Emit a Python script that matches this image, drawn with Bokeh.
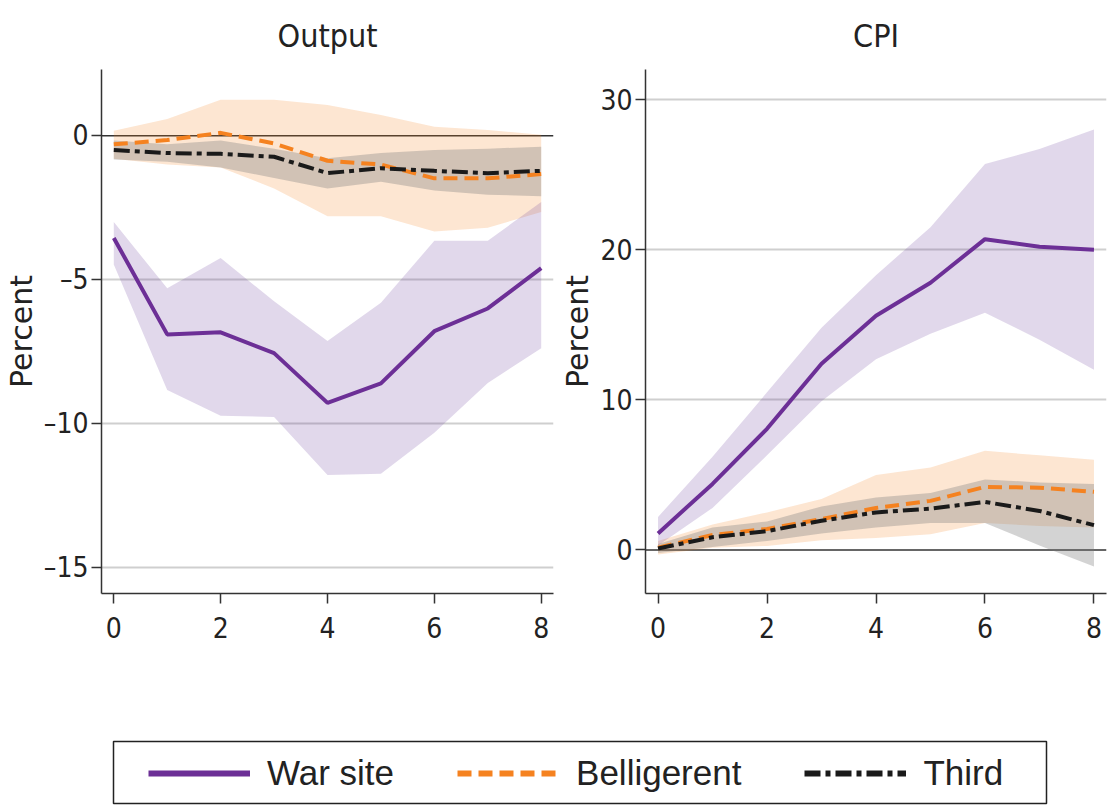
from bokeh.plotting import figure
from bokeh.layouts import column, row
from bokeh.models import Range1d, FixedTicker, Span, Legend, LegendItem
from bokeh.embed import file_html
from bokeh.resources import INLINE

# ---------------- data ----------------
horizon = [0, 1, 2, 3, 4, 5, 6, 7, 8]
x_ticks = [0, 2, 4, 6, 8]

series_names = ["War site", "Belligerent", "Third"]

# Output panel
out_war = [-3.55, -6.9, -6.83, -7.55, -9.28, -8.6, -6.79, -6.0, -4.6]
out_war_hi = [-3.0, -5.3, -4.25, -5.75, -7.13, -5.8, -3.65, -3.65, -2.3]
out_war_lo = [-4.47, -8.83, -9.73, -9.77, -11.78, -11.74, -10.32, -8.59, -7.38]
out_bel = [-0.3, -0.15, 0.1, -0.27, -0.87, -1.0, -1.48, -1.48, -1.33]
out_bel_hi = [0.17, 0.58, 1.25, 1.25, 1.07, 0.72, 0.31, 0.2, 0.03]
out_bel_lo = [-0.8, -1.0, -1.1, -1.83, -2.8, -2.8, -3.33, -3.2, -2.65]
out_thi = [-0.5, -0.6, -0.63, -0.73, -1.3, -1.13, -1.22, -1.3, -1.22]
out_thi_hi = [-0.17, -0.3, -0.17, -0.45, -0.78, -0.6, -0.5, -0.45, -0.38]
out_thi_lo = [-0.83, -0.9, -1.1, -1.47, -1.83, -1.6, -1.9, -2.05, -2.1]
out_yticks = [-15, -10, -5, 0]
out_ylabels = ["\u201315", "\u201310", "\u20135", "0"]

# CPI panel
cpi_war = [1.1, 4.4, 8.07, 12.4, 15.6, 17.8, 20.7, 20.2, 20.0]
cpi_war_hi = [2.2, 6.2, 10.5, 14.8, 18.3, 21.5, 25.7, 26.7, 28.0]
cpi_war_lo = [0.3, 2.8, 6.3, 9.9, 12.7, 14.4, 15.8, 14.0, 12.0]
cpi_bel = [0.15, 1.0, 1.4, 2.05, 2.8, 3.27, 4.2, 4.15, 3.87]
cpi_bel_hi = [0.6, 1.7, 2.5, 3.4, 5.0, 5.5, 6.6, 6.3, 6.0]
cpi_bel_lo = [-0.3, 0.15, 0.27, 0.65, 0.8, 1.05, 1.8, 1.6, 1.5]
cpi_thi = [0.1, 0.85, 1.25, 1.95, 2.5, 2.75, 3.2, 2.6, 1.65]
cpi_thi_hi = [0.4, 1.5, 1.9, 2.9, 3.5, 3.8, 4.7, 4.5, 4.4]
cpi_thi_lo = [-0.2, 0.2, 0.6, 1.1, 1.5, 1.8, 1.8, 0.3, -1.1]
cpi_yticks = [0, 10, 20, 30]
cpi_ylabels = ["0", "10", "20", "30"]

# ---------------- style ----------------
NARROW = "'Liberation Sans Narrow', 'DejaVu Sans Condensed', 'Liberation Sans', sans-serif"
PURPLE = "#6c2f96"
ORANGE = "#f58220"
BLACK = "#1a1a1a"
AXIS = "#333333"
STYLES = {
    "War site": dict(line_color=PURPLE, line_dash="solid"),
    "Belligerent": dict(line_color=ORANGE, line_dash="14 7"),
    "Third": dict(line_color=BLACK, line_dash="16 5 5 5"),
}
BANDS = {
    "War site": dict(fill_color="#6a3d9a", fill_alpha=0.2),
    "Belligerent": dict(fill_color=ORANGE, fill_alpha=0.2),
    "Third": dict(fill_color="#7a7a7a", fill_alpha=0.33),
}
PANEL_H = 700


def panel(title, yrange, yticks, ylabels, width, bl, br, data):
    p = figure(width=width, height=PANEL_H, x_range=Range1d(-0.23, 8.23),
               y_range=Range1d(*yrange), output_backend="svg",
               toolbar_location=None, min_border_left=bl, min_border_right=br,
               min_border_top=69, min_border_bottom=PANEL_H - 593)
    p.outline_line_color = None
    p.background_fill_color = "white"
    p.border_fill_color = "white"
    p.title.text = title
    p.title.align = "center"
    p.title.text_font = NARROW
    p.title.text_font_size = "32px"
    p.title.text_font_style = "normal"
    p.title.text_color = "#222222"
    p.title.standoff = 29

    p.xgrid.visible = False
    p.ygrid.ticker = FixedTicker(ticks=[t for t in yticks if t != 0])
    p.ygrid.grid_line_color = "#cfcfcf"
    p.ygrid.grid_line_width = 2

    for ax in (p.xaxis[0], p.yaxis[0]):
        ax.axis_line_color = AXIS
        ax.axis_line_width = 1.5
        ax.major_tick_line_color = AXIS
        ax.major_tick_line_width = 1.5
        ax.major_tick_in = 0
        ax.major_tick_out = 10
        ax.minor_tick_line_color = None
        ax.major_label_text_font = NARROW
        ax.major_label_text_font_size = "28px"
        ax.major_label_text_color = "#222222"

    p.xaxis.ticker = FixedTicker(ticks=x_ticks)
    p.xaxis.major_label_standoff = 13
    p.yaxis.ticker = FixedTicker(ticks=yticks)
    p.yaxis.major_label_overrides = {t: l for t, l in zip(yticks, ylabels)}
    p.yaxis.major_label_standoff = 3
    p.yaxis.axis_label = "Percent"
    p.yaxis.axis_label_text_font = "DejaVu Sans"
    p.yaxis.axis_label_text_font_size = "30px"
    p.yaxis.axis_label_text_font_style = "normal"
    p.yaxis.axis_label_text_color = "#222222"
    p.yaxis.axis_label_standoff = 2

    for name in ["Belligerent", "Third", "War site"]:
        mid, hi, lo = data[name]
        p.varea(x=horizon, y1=lo, y2=hi, **BANDS[name])

    p.add_layout(Span(location=0, dimension="width", line_color=AXIS,
                      line_width=1.5, level="underlay"))

    for name in ["War site", "Belligerent", "Third"]:
        mid, hi, lo = data[name]
        p.line(x=horizon, y=mid, line_width=4, **STYLES[name])
    return p


p1 = panel("Output", (-15.9, 2.3), out_yticks, out_ylabels, 557, 92, 4, {
    "War site": (out_war, out_war_hi, out_war_lo),
    "Belligerent": (out_bel, out_bel_hi, out_bel_lo),
    "Third": (out_thi, out_thi_hi, out_thi_lo),
})
p2 = panel("CPI", (-2.9, 32.0), cpi_yticks, cpi_ylabels, 553, 82, 4, {
    "War site": (cpi_war, cpi_war_hi, cpi_war_lo),
    "Belligerent": (cpi_bel, cpi_bel_hi, cpi_bel_lo),
    "Third": (cpi_thi, cpi_thi_hi, cpi_thi_lo),
})

# legend strip: the frame outline is the legend box
LEG_H = 105
pl = figure(width=1110, height=LEG_H, x_range=Range1d(0, 1), y_range=Range1d(0, 1),
            output_backend="svg", toolbar_location=None,
            min_border_left=113, min_border_right=1110 - 1046,
            min_border_top=41, min_border_bottom=2)
pl.axis.visible = False
pl.grid.visible = False
pl.outline_line_color = "#222222"
pl.outline_line_width = 1.5
nan = float("nan")
items = []
for name in series_names:
    r = pl.line(x=[nan], y=[nan], line_width=6, **STYLES[name])
    items.append(LegendItem(label=name, renderers=[r]))
leg = Legend(items=items, orientation="horizontal", location=(35, 10),
             label_text_font="Liberation Sans", label_text_font_size="35px",
             label_text_color="#222222", glyph_width=102, glyph_height=30,
             label_standoff=17, spacing=63, padding=0, margin=0,
             border_line_color=None, background_fill_alpha=0.0)
pl.add_layout(leg, "center")

layout = column(row(p1, p2), pl)
open("out.html", "w").write(file_html(layout, INLINE))
